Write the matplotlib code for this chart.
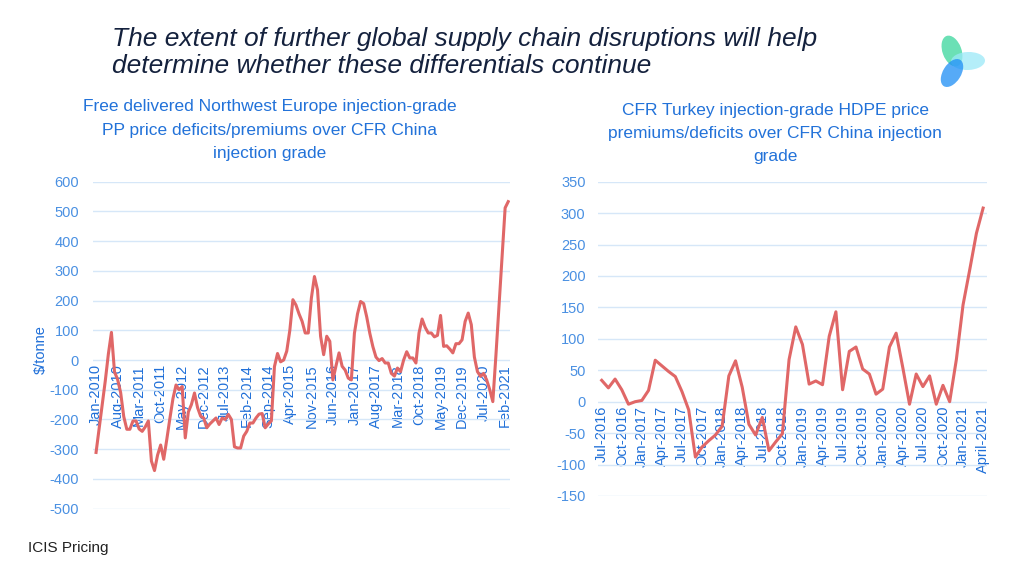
import matplotlib
matplotlib.use("Agg")
import matplotlib.pyplot as plt
from matplotlib.patches import Ellipse

plt.rcParams['font.family'] = ['Liberation Sans', 'DejaVu Sans']
plt.rcParams['axes.unicode_minus'] = False

# left chart: NWE PP vs CFR China, monthly Jan-2010 .. Mar-2021 ($/tonne)
nwe_pp = [
    -311, -230, -150, -70, 20, 93, -40, -65, -110, -190,
    -233, -233, -205, -205, -232, -240, -225, -205, -340, -372,
    -320, -286, -334, -267, -197, -130, -84, -100, -89, -262,
    -175, -150, -111, -160, -189, -195, -228, -215, -205, -195,
    -217, -195, -200, -183, -200, -292, -296, -296, -256, -240,
    -212, -212, -195, -182, -180, -228, -215, -205, -22, 22,
    -6, 0, 30, 100, 203, 185, 155, 130, 91, 91,
    208, 281, 236, 80, 18, 80, 63, -67, -20, 24,
    -21, -34, -61, -67, 90, 155, 197, 190, 145, 90,
    45, 10, -2, 5, -10, -10, -45, -54, -27, -39,
    0, 28, 7, 7, -10, 91, 138, 110, 91, 91,
    78, 83, 150, 46, 48, 37, 24, 55, 55, 68,
    130, 158, 119, 10, -39, -55, -45, -67, -100, -140,
    15, 180, 345, 512, 533,
]
nwe_ticks = ['Jan-2010', 'Aug-2010', 'Mar-2011', 'Oct-2011', 'May-2012', 'Dec-2012',
             'Jul-2013', 'Feb-2014', 'Sep-2014', 'Apr-2015', 'Nov-2015', 'Jun-2016',
             'Jan-2017', 'Aug-2017', 'Mar-2018', 'Oct-2018', 'May-2019', 'Dec-2019',
             'Jul-2020', 'Feb-2021']

# right chart: CFR Turkey HDPE vs CFR China, monthly Jul-2016 .. Apr-2021
tr_hdpe = [
    34, 22, 36, 19, -4, 0, 2, 18, 66, 57,
    48, 40, 16, -13, -88, -72, -62, -53, -39, 41,
    65, 23, -36, -53, -25, -78, -64, -51, 67, 119,
    91, 28, 33, 27, 104, 143, 19, 80, 87, 52,
    44, 12, 20, 87, 109, 54, -4, 44, 24, 41,
    -4, 26, 0, 67, 154, 210, 268, 308,
]
tr_ticks = ['Jul-2016', 'Oct-2016', 'Jan-2017', 'Apr-2017', 'Jul-2017', 'Oct-2017',
            'Jan-2018', 'Apr-2018', 'Jul-2018', 'Oct-2018', 'Jan-2019', 'Apr-2019',
            'Jul-2019', 'Oct-2019', 'Jan-2020', 'Apr-2020', 'Jul-2020', 'Oct-2020',
            'Jan-2021', 'April-2021']

line_col = '#e06767'
grid_col = '#d6e7f8'
ytick_col = '#4a90e2'
xtick_col = '#1f6fd8'
sub_col = '#2272d9'


def style(ax, yticks, xpos, xlabels, xlim):
    ax.set_yticks(yticks)
    ax.set_ylim(yticks[0], yticks[-1])
    ax.set_xlim(*xlim)
    ax.grid(True, axis='y', color=grid_col, linewidth=1.0)
    ax.set_axisbelow(True)
    for s in ['top', 'right', 'left']:
        ax.spines[s].set_visible(False)
    ax.spines['bottom'].set_position(('data', 0))
    ax.spines['bottom'].set_visible(False)
    ax.set_xticks(xpos)
    ax.set_xticklabels(xlabels, rotation=90, ha='center', va='top')
    ax.tick_params(axis='x', length=0, pad=3, labelsize=10.5, labelcolor=xtick_col)
    ax.tick_params(axis='y', length=0, pad=9, labelsize=10.5, labelcolor=ytick_col)


fig = plt.figure(figsize=(10.24, 5.76), dpi=100)

ax1 = fig.add_axes([0.0908, 0.117, 0.407, 0.5675])
ax1.plot(range(len(nwe_pp)), nwe_pp, color=line_col, linewidth=2.2)
style(ax1, list(range(-500, 601, 100)), list(range(0, 7 * len(nwe_ticks), 7)), nwe_ticks, (-1, 134.5))
ax1.tick_params(axis='y', pad=10)
fig.text(41 / 1024, 1 - 350 / 576, '$/tonne', color=xtick_col, fontsize=10.5,
         rotation=90, ha='center', va='center')

ax2 = fig.add_axes([0.584, 0.1389, 0.380, 0.5457])
ax2.plot(range(len(tr_hdpe)), tr_hdpe, color=line_col, linewidth=2.2)
style(ax2, list(range(-150, 351, 50)), list(range(0, 3 * len(tr_ticks), 3)), tr_ticks, (-0.55, 57.6))

fig.text(112 / 1024, 1 - 27 / 576,
         'The extent of further global supply chain disruptions will help\n'
         'determine whether these differentials continue',
         fontsize=19, style='italic', color='#14213d', va='top', ha='left', linespacing=1.15)

fig.text(270 / 1024, 1 - 99 / 576,
         'Free delivered Northwest Europe injection-grade\n'
         'PP price deficits/premiums over CFR China\n'
         'injection grade',
         fontsize=12.5, color=sub_col, ha='center', va='top', linespacing=1.72)

fig.text(775 / 1024, 1 - 103 / 576,
         'CFR Turkey injection-grade HDPE price\n'
         'premiums/deficits over CFR China injection\n'
         'grade',
         fontsize=12.5, color=sub_col, ha='center', va='top', linespacing=1.66)

fig.text(28 / 1024, 1 - 548 / 576, 'ICIS Pricing', fontsize=11, color='#222222', va='center')

# logo: three petals
lax = fig.add_axes([930 / 1024, 1 - 92 / 576, 64 / 1024, 64 / 576])
lax.set_xlim(0, 64)
lax.set_ylim(0, 64)
lax.set_aspect('equal')
lax.axis('off')
petals = [((22, 41), 32, 19, 110, '#3ad69c'),
          ((38, 31), 34, 18, 2, '#9be9f8'),
          ((22, 19), 31, 18, 58, '#1e8ef5')]
for (c, w, h, ang, col) in petals:
    lax.add_patch(Ellipse(c, w, h, angle=ang, facecolor=col, edgecolor='none', alpha=0.75))

fig.savefig('out.png', dpi=100)
